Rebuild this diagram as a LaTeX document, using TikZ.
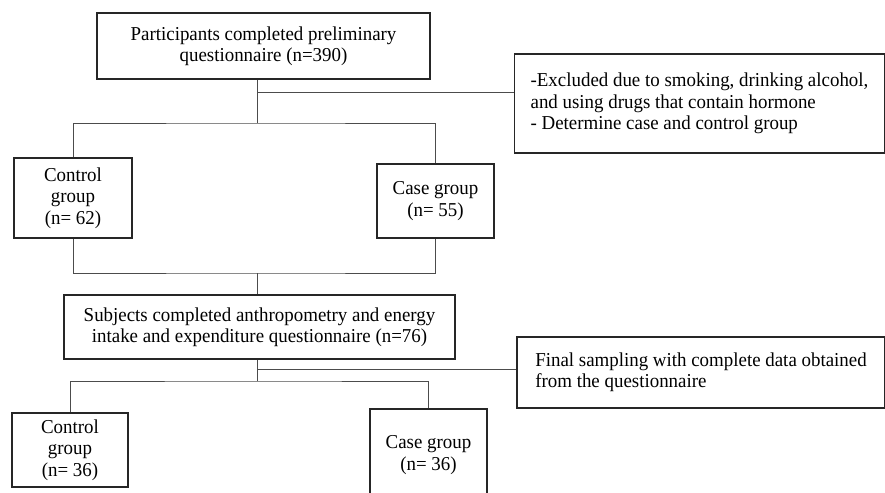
\documentclass[tikz,border=0pt]{standalone}
\usepackage{fontspec}
\setmainfont[FakeStretch=0.96]{Liberation Serif}
\usepackage{tikz}

\tikzset{
	box/.style={draw=black!85, line width=1.7pt, fill=white, align=center, inner sep=0pt,
		font=\fontsize{19.7}{21.3}\selectfont},
	notebox/.style={box, align=left},
	link/.style={draw=black!70, line width=0.9pt}
}

\begin{document}
\begin{tikzpicture}[x=1pt, y=-1pt]
		\useasboundingbox (0,0) rectangle (885,492);
		
		%boxes
		\node[box, minimum width=333pt, minimum height=66pt] (start) at (263.5,46) {Participants completed preliminary\\questionnaire (n=390)};
		\node[notebox, minimum width=370pt, minimum height=99pt] (exclude) at (699.5,103.5) {-Excluded due to smoking, drinking alcohol,\\and using drugs that contain hormone\\- Determine case and control group};
		\node[box, minimum width=118pt, minimum height=80pt] (controlA) at (73,198) {Control\\group\\(n= 62)};
		\node[box, minimum width=117pt, minimum height=74pt] (caseA) at (435.5,201) {Case group\\(n= 55)};
		\node[box, minimum width=391pt, minimum height=64pt] (subjects) at (259.5,327) {Subjects completed anthropometry and energy\\intake and expenditure questionnaire (n=76)};
		\node[notebox, minimum width=368pt, minimum height=71pt] (final) at (701,372.5) {Final sampling with complete data obtained\\from the questionnaire};
		\node[box, minimum width=116pt, minimum height=74pt] (controlB) at (70,450) {Control\\group\\(n= 36)};
		\node[box, minimum width=117pt, minimum height=92pt] (caseB) at (428.5,455) {Case group\\(n= 36)};
		
		%junctions
		\coordinate (exA) at (257,92);
		\coordinate (splitA) at (257,123);
		\coordinate (joinA) at (257,273);
		\coordinate (exB) at (257,369);
		\coordinate (splitB) at (257,381);
		
		%lines
		\draw[link] (start.south -| splitA) -- (splitA);
		\draw[link] (exA) -- (exA -| exclude.west);
		\draw[link] (controlA.north) |- (splitA) -| (caseA.north);
		\draw[link] (controlA.south) |- (joinA) -| (caseA.south);
		\draw[link] (joinA) -- (subjects.north -| joinA);
		\draw[link] (subjects.south -| splitB) -- (splitB);
		\draw[link] (exB) -- (exB -| final.west);
		\draw[link] (controlB.north) |- (splitB) -| (caseB.north);
	
	\end{tikzpicture}
\end{document}
